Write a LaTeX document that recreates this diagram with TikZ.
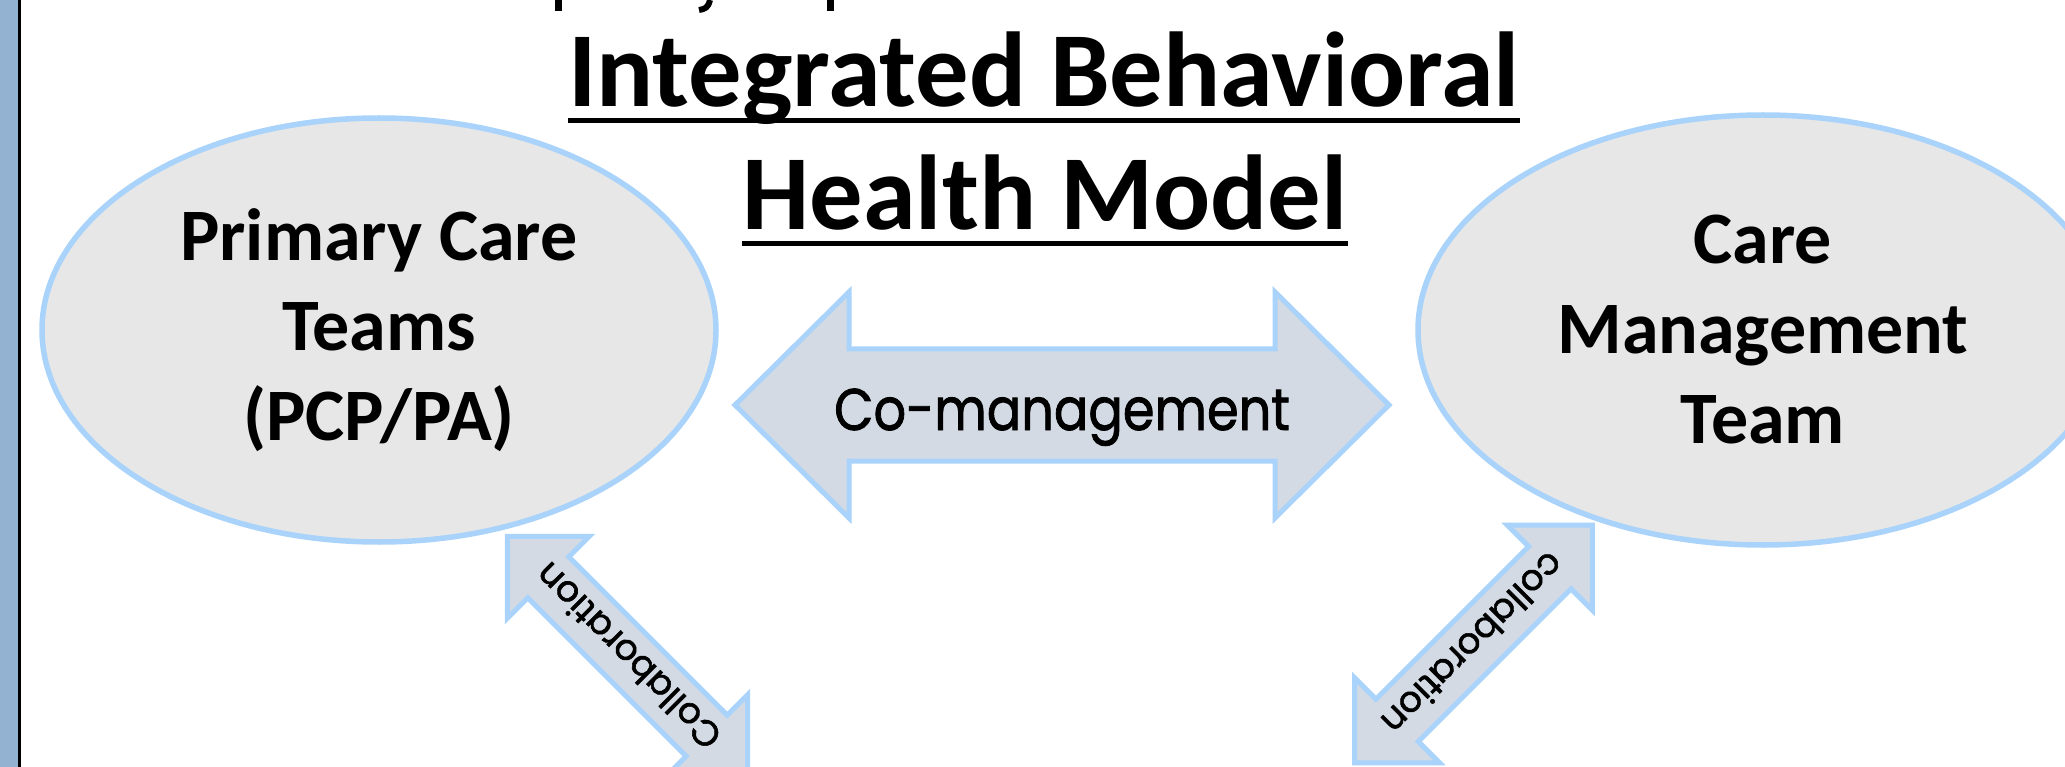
\documentclass[tikz,border=0pt]{standalone}
\usepackage{fontspec}
\setmainfont{Carlito}
\newfontfamily\handfont[FakeBold=1.5]{Poppins}
\usetikzlibrary{shapes.geometric,calc}
\definecolor{edgeblue}{HTML}{A9D3FA}
\definecolor{ovalfill}{HTML}{E7E7E7}
\definecolor{arrowfill}{HTML}{D3DAE3}
\definecolor{sidebar}{HTML}{93B1D0}

\tikzset{
  bigarrow/.style={draw=edgeblue, line width=5pt, fill=arrowfill, line join=miter},
  % double-headed block arrow: half length / head length / head half width / shaft half width
  pics/dblarrow/.style args={#1/#2/#3/#4}{code={
    \path[bigarrow] (-#1,0) -- (-#1+#2,-#3) -- (-#1+#2,-#4) -- (#1-#2,-#4)
      -- (#1-#2,-#3) -- (#1,0) -- (#1-#2,#3) -- (#1-#2,#4) -- (-#1+#2,#4)
      -- (-#1+#2,#3) -- cycle;
  }},
  oval/.style={ellipse, draw=edgeblue, line width=5.5pt, fill=ovalfill,
    align=center, inner sep=0pt, font=\bfseries\fontsize{74}{90}\selectfont},
  titleline/.style={anchor=base, inner sep=0pt, font=\bfseries\fontsize{106.5}{120}\selectfont},
  arrowtext/.style={font=\handfont\fontsize{36}{40}\selectfont, inner sep=0pt},
}

\begin{document}
\begin{tikzpicture}[x=1pt, y=-1pt]
\clip (0,0) rectangle (2065,767);
\fill[white] (0,0) rectangle (2065,767);

% slide edge on the left
\fill[sidebar] (0,0) rectangle (18,767);
\fill[black] (18,0) rectangle (21,767);

% descenders of the line above, cut by the top edge
\fill[black] (555,0) rectangle (562,11.5);
\draw[black, line width=6pt] (710,0) .. controls (708,8) and (705,9) .. (699,10);
\fill[black] (827,0) rectangle (834,11.5);

% title
\node[titleline] (title1) at (1044,106.7) {Integrated Behavioral};
\node[titleline] (title2) at (1045,230) {Health Model};
\draw[line width=5pt] ($(title1.base west)+(0,13.5)$) -- ($(title1.base east)+(0,13.5)$);
\draw[line width=5pt] ($(title2.base west)+(0,13.5)$) -- ($(title2.base east)+(0,13.5)$);

% the two teams
\node[oval, minimum width=674, minimum height=424] (pcteam) at (379,330)
  {Primary Care\\Teams\\(PCP/PA)};
\node[oval, minimum width=690, minimum height=430] (cmteam) at (1763,330)
  {Care\\Management\\Team};

% co-management arrow between the teams
\pic at (1062,405) {dblarrow=327/114/113/56};
\node[anchor=base, inner sep=0pt, font=\handfont\fontsize{51}{60}\selectfont] (comgmt)
  at (1062,430) {\scalebox{1}[1.15]{Co-management}};

% collaboration arrows below the teams
\pic[rotate=-45] at (627.5,656.5) {dblarrow=170/58/58/29};
\node[arrowtext, rotate=135] (collabL) at (627.5,656.5) {Collaboration};
\pic[rotate=45] at (1473.5,644) {dblarrow=168/60/60/30};
\node[arrowtext, rotate=225] (collabR) at (1473.5,644) {collaboration};
\end{tikzpicture}
\end{document}
